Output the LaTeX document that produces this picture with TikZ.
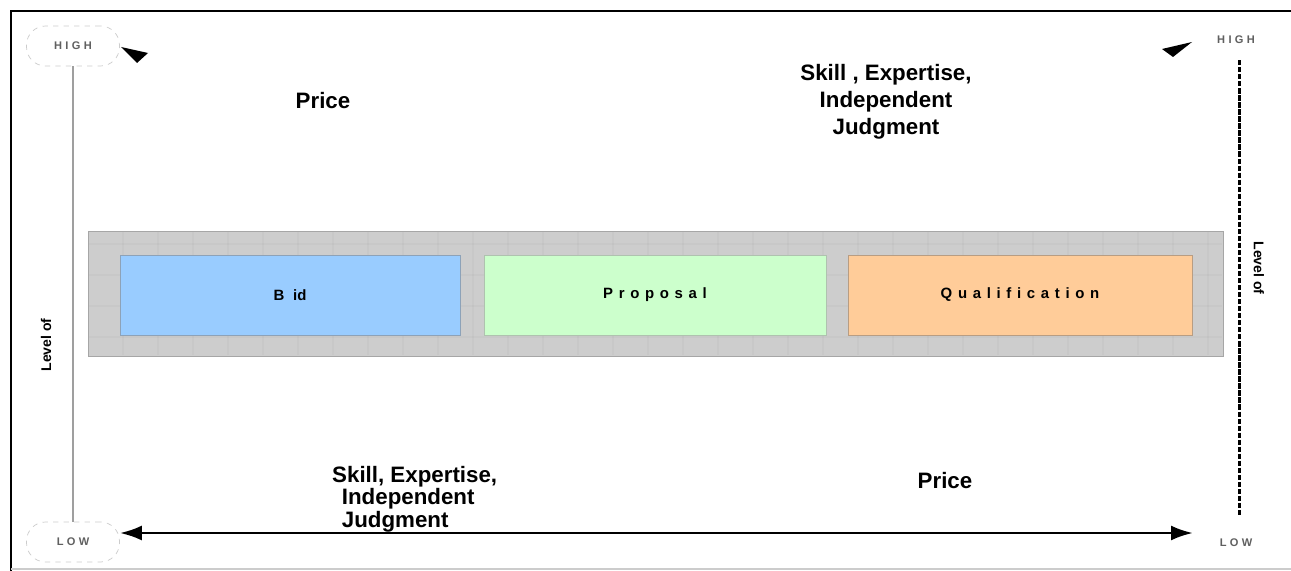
\documentclass[tikz,border=0pt]{standalone}
\usepackage{fontspec}
\setmainfont{Liberation Sans}
\usepackage{xcolor}
\usepackage{tikz}
\usetikzlibrary{shapes,arrows,arrows.meta,calc}
\newfontfamily\spaced[LetterSpace=38]{Liberation Sans}
\newfontfamily\smallspaced[LetterSpace=30]{Liberation Sans}
\definecolor{bidblue}{HTML}{99CCFF}
\definecolor{propgreen}{HTML}{CCFFCC}
\definecolor{qualorange}{HTML}{FFCC99}
\definecolor{bandgray}{HTML}{CDCDCD}
\tikzset{
  phase/.style={minimum height=1.6cm, inner sep=0pt, font=\spaced\fontsize{8.5}{10}\bfseries},
  levelpill/.style={draw=gray!40, dashed, rounded corners=0.38cm, minimum width=1.86cm, minimum height=0.8cm, inner sep=0pt},
  leveltext/.style={font=\smallspaced\fontsize{6.3}{7}\bfseries, text=gray!75!black},
  bigtext/.style={font=\fontsize{12.7}{15.3}\bfseries, align=center},
  sidetext/.style={font=\fontsize{8}{10}\bfseries}
}

\begin{document}
\begin{tikzpicture}[x=0.02cm,y=-0.02cm]
				\useasboundingbox (0,0) rectangle (1291,571);
				\fill[white] (0,0) rectangle (1291,571);
				\draw [line width=1.7pt] (11,571) -- (11,11) -- (1291,11);
				\draw [gray!40, line width=0.8pt] (11,569) -- (1291,569);
				% band behind the three phases
				\draw [fill=bandgray, draw=gray!70] (88,231) rectangle (1223,356);
				\foreach \gx in {123,158,...,1210} \draw [black, line width=0.8pt, opacity=0.025] (\gx,232) -- (\gx,355);
				\foreach \gy in {244,275,306,337} \draw [black, line width=0.8pt, opacity=0.025] (89,\gy) -- (1222,\gy);
				\node [phase, fill=bidblue, draw=bidblue!60!black!70, minimum width=6.8cm, font=\fontsize{8.5}{10}\bfseries] (bid) at (290,295) {B\hspace{5pt}id};
				\node [phase, fill=propgreen, draw=propgreen!60!black!60, minimum width=6.84cm] (proposal) at (655,295) {Proposal};
				\node [phase, fill=qualorange, draw=qualorange!65!black!80, minimum width=6.88cm] (qualification) at (1020,295) {Qualification};
				% left scale
				\node [levelpill] (highleft) at (73,46) {};
				\node [leveltext] at (highleft) {HIGH};
				\node [levelpill] (lowleft) at (73,542) {};
				\node [leveltext] at (lowleft) {LOW};
				\draw [gray!75, line width=1.2pt] (highleft.south) -- (lowleft.north);
				\node [sidetext, rotate=90] (levelleft) at (46,345) {Level of};
				% right scale
				\node [leveltext] (highright) at (1236,40) {HIGH};
				\node [leveltext] (lowright) at (1236,543) {LOW};
				\draw [line width=1.7pt, dash pattern=on 3pt off 1pt] ($(highright.south)+(3,10)$) -- ($(lowright.north)+(3,-16)$);
				\node [sidetext, rotate=-90] (levelright) at (1259,268) {Level of};
				% loose arrow heads at the top
				\fill (121,47) -- (148,53) -- (137,63) -- cycle;
				\fill (1162,49) -- (1192,42) -- (1173,57) -- cycle;
				% bottom arrow
				\coordinate (arrowend) at (1193,533);
				\draw [line width=1.6pt, {Latex[length=0.44cm,width=0.3cm]}-{Latex[length=0.44cm,width=0.3cm]}] (lowleft.east |- arrowend) -- (arrowend);
				% labels
				\node [bigtext] (pricetop) at (323,101) {Price};
				\node [bigtext] (skilltop) at (886,102) {Skill , Expertise,\\Independent\\Judgment};
				\node [bigtext, align=left, anchor=west, font=\fontsize{12.7}{12.8}\bfseries] (skillbottom) at (326,499) {Skill, Expertise,\\\hspace{5.5pt}Independent\\\hspace{5.5pt}Judgment};
				\node [bigtext] (pricebottom) at (945,481) {Price};
			\end{tikzpicture}
\end{document}
